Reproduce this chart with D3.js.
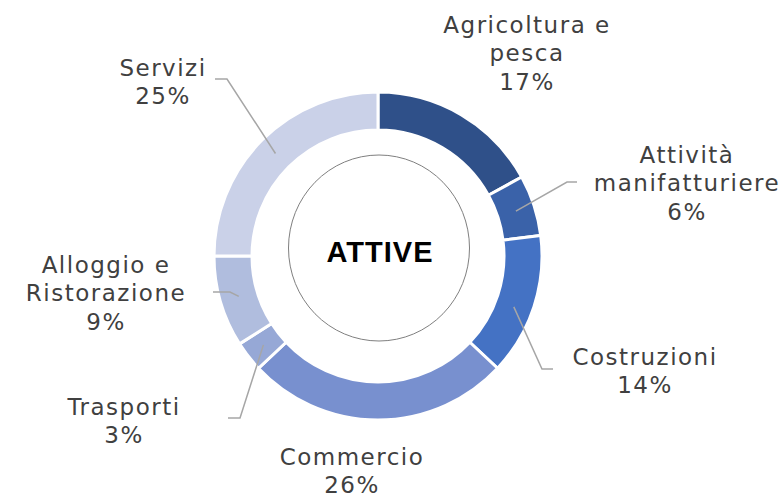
<!DOCTYPE html>
<html>
<head>
<meta charset="utf-8">
<script src="https://cdn.jsdelivr.net/npm/d3@7"></script>
<style>
  html, body { margin: 0; padding: 0; background: #fff; }
</style>
</head>
<body>
<div id="chart"></div>
<script>
// Data
const categories = ["Agricoltura e pesca", "Attività manifatturiere", "Costruzioni", "Commercio", "Trasporti", "Alloggio e Ristorazione", "Servizi"];
const values = [17, 6, 14, 26, 3, 9, 25];
const colors = ["#2F5089", "#3A62A9", "#4472C4", "#7890CF", "#96A8D6", "#B0BDDE", "#CAD1E8"];
const centerLabel = "ATTIVE";

// Label layout (lines, center x, first baseline, leader elbow/end, anchor along slice)
const labelLayout = [
    { lines: ["Agricoltura e", "pesca"], x: 527, y: 33 },
    { lines: ["Attività", "manifatturiere"], x: 687, y: 163, leader: [[567, 182], [577, 182]] },
    { lines: ["Costruzioni"], x: 645, y: 365, leader: [[542, 369], [553, 369]], t: 0.55 },
    { lines: ["Commercio"], x: 352, y: 465 },
    { lines: ["Trasporti"], x: 124, y: 415, leader: [[240, 418], [228, 418]] },
    { lines: ["Alloggio e", "Ristorazione"], x: 106, y: 273, leader: [[230, 292], [213, 292]] },
    { lines: ["Servizi"], x: 163, y: 76, leader: [[227, 79], [215, 79]] }
];

function createDonut(selector) {
    const width = 783;
    const height = 496;
    const cx = 378, cy = 256;
    const outerR = 164, innerR = 126;
    const lineH = 28.3;

    const svg = d3.select(selector)
        .append("svg")
        .attr("width", width)
        .attr("height", height);

    const data = categories.map((c, i) => ({ name: c, value: values[i], color: colors[i], layout: labelLayout[i] }));

    const pie = d3.pie()
        .sort(null)
        .value(d => d.value)
        .startAngle(0)
        .endAngle(2 * Math.PI);

    const arc = d3.arc()
        .innerRadius(innerR)
        .outerRadius(outerR);

    const g = svg.append("g")
        .attr("transform", `translate(${cx},${cy})`);

    const arcs = pie(data);

    g.selectAll("path.slice")
        .data(arcs)
        .join("path")
        .attr("class", "slice")
        .attr("d", arc)
        .attr("fill", d => d.data.color)
        .attr("stroke", "#fff")
        .attr("stroke-width", 3);

    // Leader lines
    const midR = (innerR + outerR) / 2;
    arcs.forEach(d => {
        const lay = d.data.layout;
        if (!lay.leader) return;
        const t = lay.t === undefined ? 0.5 : lay.t;
        const a = d.startAngle + (d.endAngle - d.startAngle) * t;
        const start = [cx + midR * Math.sin(a), cy - midR * Math.cos(a)];
        svg.append("path")
            .attr("d", d3.line()([start, ...lay.leader]))
            .attr("fill", "none")
            .attr("stroke", "#A6A6A6")
            .attr("stroke-width", 1.5);
    });

    // Center circle and title
    svg.append("ellipse")
        .attr("cx", cx + 1)
        .attr("cy", cy - 8)
        .attr("rx", 90.5)
        .attr("ry", 93)
        .attr("fill", "#fff")
        .attr("stroke", "#7F7F7F")
        .attr("stroke-width", 1);

    svg.append("text")
        .attr("x", cx + 2)
        .attr("y", cy + 6)
        .attr("text-anchor", "middle")
        .attr("font-family", "'Liberation Sans', Arial, sans-serif")
        .attr("font-weight", "bold")
        .attr("font-size", "29px")
        .attr("letter-spacing", "1px")
        .attr("fill", "#000")
        .text(centerLabel);

    // Data labels
    arcs.forEach(d => {
        const lay = d.data.layout;
        const text = svg.append("text")
            .attr("text-anchor", "middle")
            .attr("font-family", "'DejaVu Sans', sans-serif")
            .attr("font-size", "23px")
            .attr("letter-spacing", "1.5px")
            .attr("fill", "#404040");
        const lines = [...lay.lines, d.data.value + "%"];
        lines.forEach((l, i) => {
            text.append("tspan")
                .attr("x", lay.x)
                .attr("y", lay.y + i * lineH)
                .text(l);
        });
    });
}

createDonut("#chart");
</script>
</body>
</html>
